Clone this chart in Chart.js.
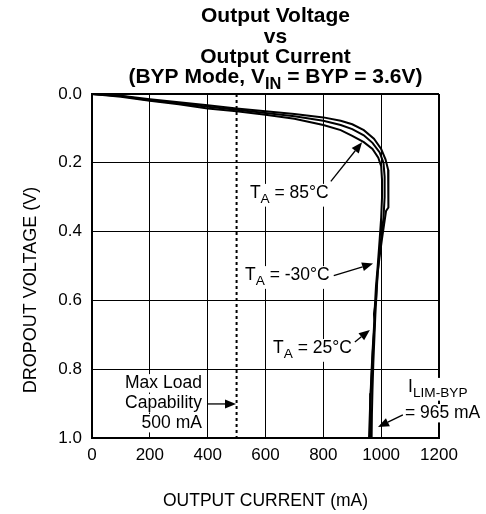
<!DOCTYPE html>
<html>
<head>
<meta charset="utf-8">
<script src="https://cdn.jsdelivr.net/npm/chart.js@4.4.1/dist/chart.umd.min.js"></script>
<style>
  body { margin: 0; background: #fff; }
</style>
</head>
<body>
<canvas id="chart" width="486" height="514"></canvas>
<script>
// Curves: output current (mA) vs dropout voltage (V)
var current85 = [0, 100, 200, 300, 400, 500, 600, 700, 800, 860, 900, 940, 970, 990, 1000, 1003, 1003, 1000, 995, 988, 982, 978, 975, 970, 966, 962, 958];
var dropout85 = [0, 0.008, 0.02, 0.03, 0.042, 0.05, 0.06, 0.072, 0.09, 0.105, 0.122, 0.14, 0.16, 0.185, 0.21, 0.25, 0.3, 0.36, 0.42, 0.5, 0.56, 0.62, 0.68, 0.75, 0.82, 0.9, 1.0];

var currentM30 = [0, 100, 200, 300, 400, 500, 600, 700, 800, 860, 900, 940, 975, 1000, 1015, 1024, 1026, 1024, 1017, 1010, 1003, 995, 988, 984, 980, 977, 973, 970, 968, 967];
var dropoutM30 = [0, 0.005, 0.015, 0.024, 0.033, 0.042, 0.05, 0.058, 0.068, 0.078, 0.088, 0.105, 0.13, 0.16, 0.19, 0.22, 0.28, 0.33, 0.34, 0.38, 0.42, 0.47, 0.52, 0.58, 0.64, 0.7, 0.78, 0.86, 0.93, 1.0];

var current25 = [0, 100, 200, 300, 400, 500, 600, 700, 800, 860, 900, 940, 970, 995, 1008, 1012, 1012, 1008, 1000, 992, 985, 982, 975, 978, 973, 968, 964, 962];
var dropout25 = [0, 0.006, 0.018, 0.027, 0.037, 0.046, 0.055, 0.065, 0.078, 0.09, 0.102, 0.12, 0.142, 0.17, 0.2, 0.24, 0.3, 0.36, 0.42, 0.48, 0.55, 0.6, 0.64, 0.66, 0.72, 0.8, 0.87, 1.0];

var maxLoad = 500;          // mA, dotted marker
var xTickStep = 200;
var yTickStep = 0.2;

function toPoints(xs, ys) {
    var pts = [];
    for (var i = 0; i < xs.length; i++) pts.push({x: xs[i], y: ys[i]});
    return pts;
}

var FONT = '"Liberation Sans", Arial, sans-serif';

// callouts, anchored in data units (mA, V)
var callouts = [
    {parts: [['T'], ['A', 1], [' = 85°C']], x: 546, y: 0.302, align: 'left', arrow: [826, 0.254, 934, 0.14]},
    {parts: [['T'], ['A', 1], [' = -30°C']], x: 822, y: 0.541, align: 'right', arrow: [836, 0.528, 972, 0.493]},
    {parts: [['T'], ['A', 1], [' = 25°C']], x: 626, y: 0.753, align: 'left', arrow: [909, 0.721, 961, 0.686]},
    {parts: [['Max Load']], x: 380, y: 0.855, align: 'right'},
    {parts: [['Capability']], x: 380, y: 0.913, align: 'right', arrow: [398, 0.901, 498, 0.901]},
    {parts: [['500 mA']], x: 380, y: 0.971, align: 'right'},
    {parts: [['I'], ['LIM-BYP', 1]], x: 1093, y: 0.866, align: 'left'},
    {parts: [['= 965 mA']], x: 1082, y: 0.942, align: 'left', arrow: [1075, 0.933, 989, 0.968]}
];

function drawParts(ctx, parts, x, baseline, size, weight, align, knockout) {
    var total = 0, hasSub = false;
    parts.forEach(function(p) {
        ctx.font = weight + ' ' + (p[1] ? size * 0.78 : size) + 'px ' + FONT;
        p.w = ctx.measureText(p[0]).width;
        total += p.w;
        if (p[1]) hasSub = true;
    });
    var cx = x;
    if (align === 'center') cx = x - total / 2;
    if (align === 'right') cx = x - total;
    if (knockout) {
        // white box so the grid does not run through the label
        ctx.save();
        ctx.fillStyle = '#fff';
        ctx.fillRect(cx - 2, baseline - size * 0.8, total + 4, size * (hasSub ? 1.3 : 1.05));
        ctx.restore();
    }
    ctx.textAlign = 'left';
    ctx.textBaseline = 'alphabetic';
    parts.forEach(function(p) {
        ctx.font = weight + ' ' + (p[1] ? size * 0.78 : size) + 'px ' + FONT;
        ctx.fillText(p[0], cx, baseline + (p[1] ? size * 0.3 : 0));
        cx += p.w;
    });
}

function drawArrow(ctx, x1, y1, x2, y2) {
    var a = Math.atan2(y2 - y1, x2 - x1);
    var len = 11, half = 4.5;
    var bx = x2 - Math.cos(a) * len, by = y2 - Math.sin(a) * len;
    ctx.beginPath();
    ctx.moveTo(x1, y1);
    ctx.lineTo(bx, by);
    ctx.stroke();
    ctx.beginPath();
    ctx.moveTo(x2, y2);
    ctx.lineTo(bx - Math.sin(a) * half, by + Math.cos(a) * half);
    ctx.lineTo(bx + Math.sin(a) * half, by - Math.cos(a) * half);
    ctx.closePath();
    ctx.fill();
}

var decorations = {
    id: 'decorations',
    afterDraw: function(chart) {
        var ctx = chart.ctx;
        var xs = chart.scales.x, ys = chart.scales.y;
        var area = chart.chartArea;
        ctx.save();
        ctx.fillStyle = '#000';
        ctx.strokeStyle = '#000';

        // title block
        var tx = (area.left + area.right) / 2 + 10;
        drawParts(ctx, [['Output Voltage']], tx, 22, 21, 'bold', 'center');
        drawParts(ctx, [['vs']], tx, 43, 21, 'bold', 'center');
        drawParts(ctx, [['Output Current']], tx, 63, 21, 'bold', 'center');
        drawParts(ctx, [['(BYP Mode, V'], ['IN', 1], [' = BYP = 3.6V)']], tx, 83, 21, 'bold', 'center');

        // y axis title
        ctx.save();
        ctx.translate(30, (area.top + area.bottom) / 2 + 24);
        ctx.rotate(-Math.PI / 2);
        drawParts(ctx, [['DROPOUT VOLTAGE (V)']], 0, 6, 18, 'normal', 'center');
        ctx.restore();

        // callouts
        ctx.lineWidth = 1.3;
        callouts.forEach(function(c) {
            drawParts(ctx, c.parts, xs.getPixelForValue(c.x), ys.getPixelForValue(c.y), 17.5, 'normal', c.align, true);
            if (c.arrow) {
                drawArrow(ctx,
                    xs.getPixelForValue(c.arrow[0]), ys.getPixelForValue(c.arrow[1]),
                    xs.getPixelForValue(c.arrow[2]), ys.getPixelForValue(c.arrow[3]));
            }
        });
        ctx.restore();
    }
};

function edgeWidth(ctx) {
    return (ctx.index === 0 || ctx.index === ctx.scale.ticks.length - 1) ? 2 : 1;
}

new Chart(document.getElementById('chart'), {
    type: 'line',
    data: {
        datasets: [
            {label: 'TA = 85°C', data: toPoints(current85, dropout85), borderColor: '#000', borderWidth: 2, pointRadius: 0, tension: 0},
            {label: 'TA = -30°C', data: toPoints(currentM30, dropoutM30), borderColor: '#000', borderWidth: 2, pointRadius: 0, tension: 0},
            {label: 'TA = 25°C', data: toPoints(current25, dropout25), borderColor: '#000', borderWidth: 2, pointRadius: 0, tension: 0},
            {label: 'Max Load', data: toPoints([maxLoad, maxLoad], [0, 1]), borderColor: '#000', borderWidth: 2, borderDash: [3, 3], pointRadius: 0}
        ]
    },
    options: {
        responsive: false,
        animation: false,
        layout: {padding: {top: 94, right: 47, left: 0, bottom: 0}},
        plugins: {
            legend: {display: false},
            tooltip: {enabled: false}
        },
        scales: {
            x: {
                type: 'linear',
                min: 0,
                max: 1200,
                ticks: {stepSize: xTickStep, padding: 7, color: '#000', font: {family: FONT, size: 17},
                        callback: function(v) { return String(v); }},
                grid: {color: '#000', lineWidth: edgeWidth, drawTicks: false},
                border: {color: '#000', width: 2},
                title: {display: true, text: 'OUTPUT CURRENT (mA)', color: '#000', font: {family: FONT, size: 17.5}, padding: {top: 4, bottom: 2}},
                afterFit: function(scale) { scale.height = 76; }
            },
            y: {
                type: 'linear',
                reverse: true,
                min: 0,
                max: 1,
                ticks: {stepSize: yTickStep, padding: 10, color: '#000', font: {family: FONT, size: 17},
                        callback: function(v) { return v.toFixed(1); }},
                grid: {color: '#000', lineWidth: edgeWidth, drawTicks: false},
                border: {color: '#000', width: 2},
                afterFit: function(scale) { scale.width = 92; }
            }
        }
    },
    plugins: [decorations]
});
</script>
</body>
</html>
